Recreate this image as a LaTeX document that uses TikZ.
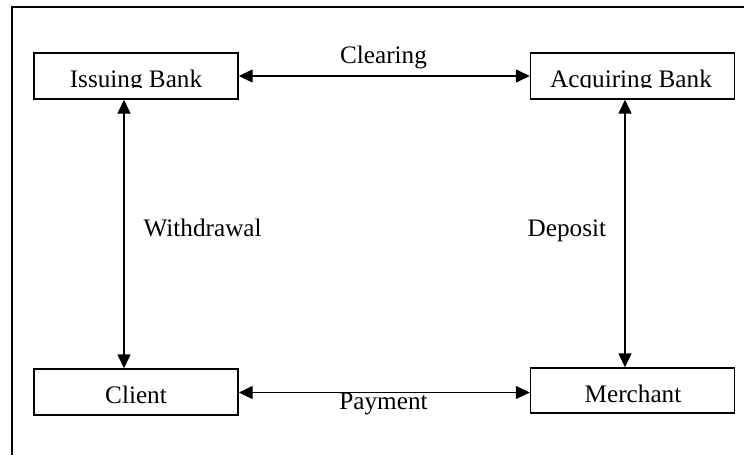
\documentclass[tikz,border=0pt]{standalone}
\usepackage{fontspec}
\setmainfont{Liberation Serif}
\usetikzlibrary{arrows.meta}
\begin{document}
\begin{tikzpicture}[x=0.5pt,y=-0.5pt,
  line width=0.7pt,
  box/.style={draw,line width=0.7pt,inner sep=0pt,minimum width=102pt,minimum height=23pt},
  txt/.style={anchor=base,inner sep=0pt,font=\fontsize{12.6}{15}\selectfont},
  arr/.style={{Triangle[length=7pt,width=6.5pt]}-{Triangle[length=7pt,width=6.5pt]},line width=0.7pt}]
\useasboundingbox (0,0) rectangle (744,455);
% frame
\draw (744,7) -- (12,7) -- (12,455);
% boxes
\node[box] (ib) at (136,76) {};
\node[box] (ab) at (632.5,76) {};
\node[box] (cl) at (136,392) {};
\node[box,minimum height=22.5pt] (me) at (632.5,390.5) {};
% box texts (descenders clipped at the baseline as in the reference)
\begin{scope}
  \clip (ib.north west) rectangle (ib.east |- 0,87.6);
  \node[txt] (ibt) at (136,87) {Issuing Bank};
\end{scope}
\begin{scope}
  \clip (ab.north west) rectangle (ab.east |- 0,87.6);
  \node[txt] (abt) at (631,87) {Acquiring Bank};
\end{scope}
\node[txt] (clt) at (136,403) {Client};
\node[txt] (met) at (633,402) {Merchant};
% connectors
\coordinate (vl) at (124,0);
\coordinate (vr) at (625,0);
\coordinate (hp) at (0,392.5);
\draw[arr] (ib.east) -- (ab.west);
\draw[arr] (cl.east |- hp) -- (me.west |- hp);
\draw[arr] (vl |- ib.south) -- (vl |- cl.north);
\draw[arr] (vr |- ab.south) -- (vr |- me.north);
% labels
\node[txt] (clr) at (383.5,63) {Clearing};
\node[txt] (pay) at (383.5,409) {Payment};
\node[txt,anchor=base west] (wd) at (143,236) {Withdrawal};
\node[txt,anchor=base west] (dp) at (527,236) {Deposit};
\end{tikzpicture}
\end{document}
